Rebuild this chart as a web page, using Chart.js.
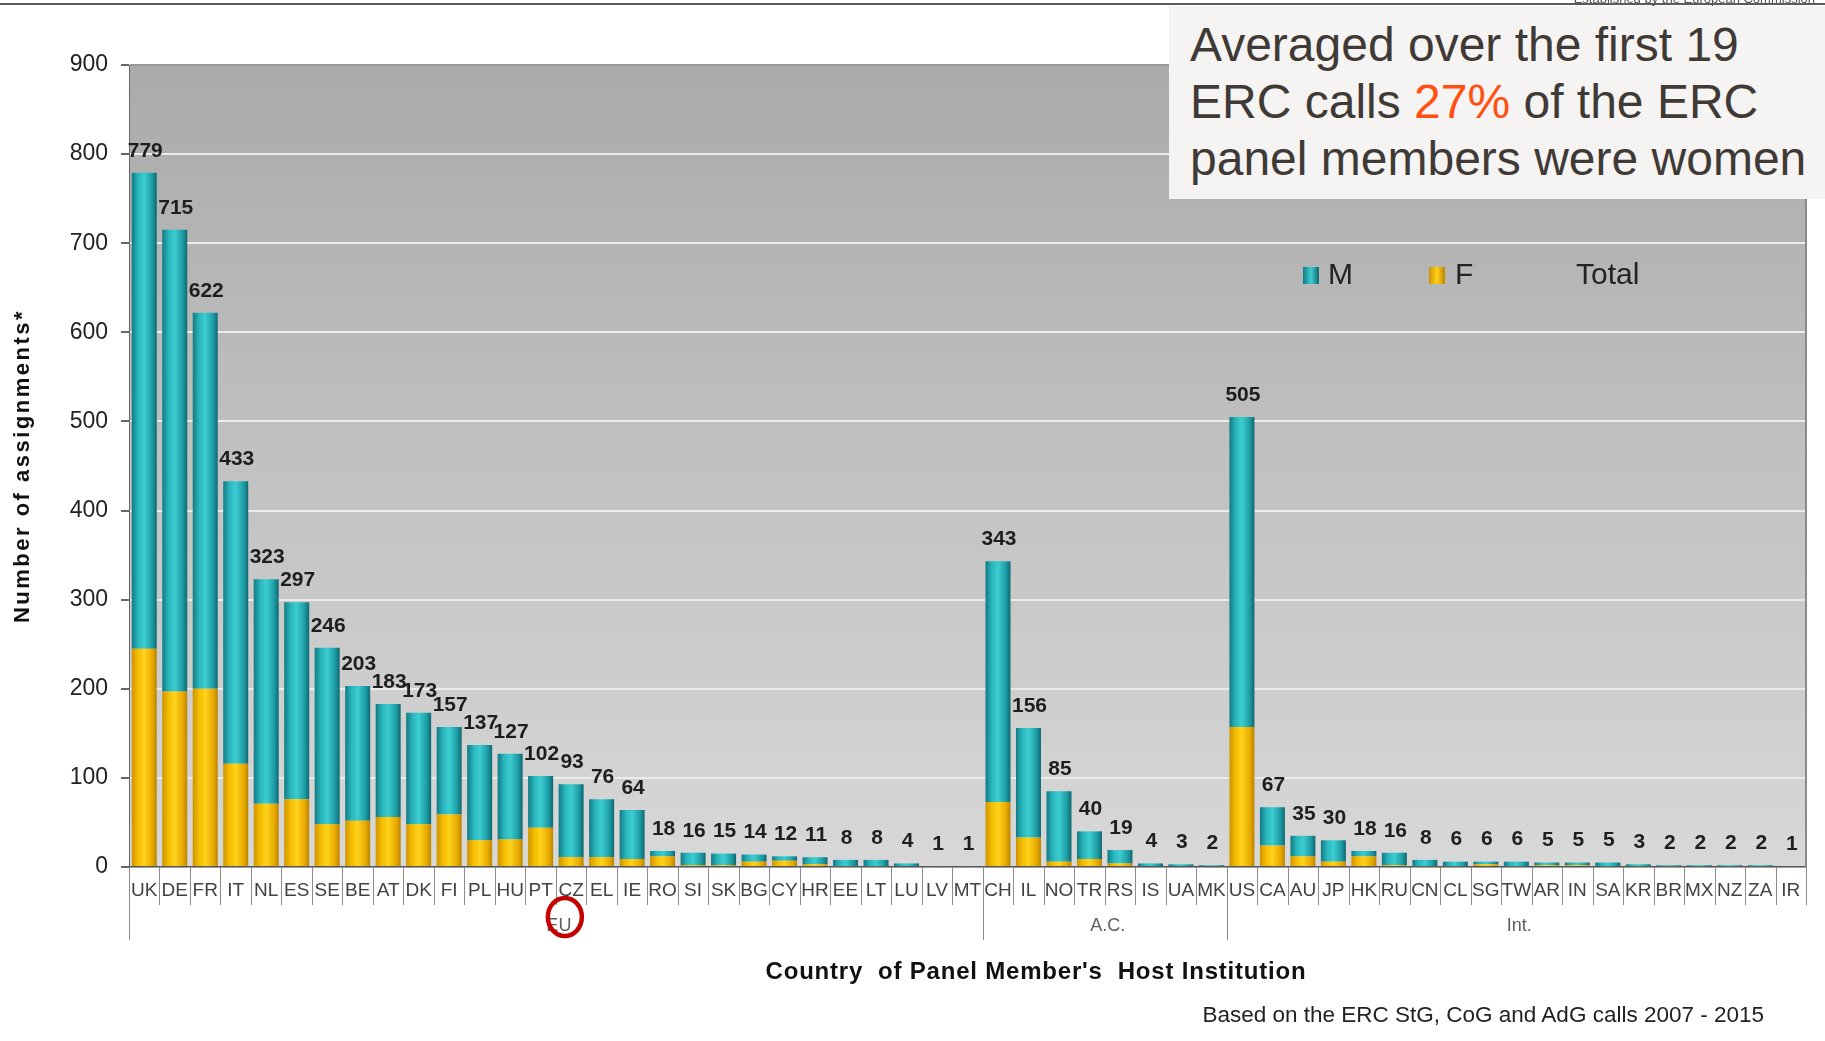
<!DOCTYPE html>
<html>
<head>
<meta charset="utf-8">
<title>ERC panel members by country</title>
<script src="https://cdn.jsdelivr.net/npm/chart.js@4.4.1/dist/chart.umd.min.js"></script>
<style>
html, body { margin: 0; padding: 0; background: #fff; }
#wrap { position: relative; width: 1825px; height: 1041px; overflow: hidden; font-family: "Liberation Sans", Arial, sans-serif; }
#chart-box { position: absolute; left: 0; top: 0; width: 1825px; height: 1041px; }
.topline { position: absolute; left: 0; top: 3px; width: 1825px; height: 2px; background: #5a5a5a; }
.tiny { position: absolute; right: 10px; top: -9px; font-size: 13px; color: #555; white-space: nowrap; }
.note { position: absolute; left: 1169px; top: 6px; width: 656px; height: 193px; box-sizing: border-box;
	padding: 10px 0 0 21px; background: #f6f4f3; color: #403a36; font-size: 48px; line-height: 57px; white-space: nowrap; }
.note .hl { color: #ff5010; }
.foot { position: absolute; right: 61px; top: 1003px; font-size: 22.5px; line-height: 24px; color: #222; white-space: nowrap; }
</style>
</head>
<body>
<div id="wrap">
	<div id="chart-box"><canvas id="erc-chart"></canvas></div>
	<div class="topline"></div>
	<div class="tiny">Established by the European Commission</div>
	<div class="note">Averaged over the first 19<br>ERC calls <span class="hl">27%</span> of the ERC<br>panel members were women</div>
	<div class="foot">Based on the ERC StG, CoG and AdG calls 2007 - 2015</div>
</div>
<script>
// countries, EU first, then associated countries, then the rest of the world
const countries = ['UK', 'DE', 'FR', 'IT', 'NL', 'ES', 'SE', 'BE', 'AT', 'DK', 'FI', 'PL', 'HU', 'PT', 'CZ', 'EL', 'IE', 'RO', 'SI', 'SK', 'BG', 'CY', 'HR', 'EE', 'LT', 'LU', 'LV', 'MT',
	'CH', 'IL', 'NO', 'TR', 'RS', 'IS', 'UA', 'MK',
	'US', 'CA', 'AU', 'JP', 'HK', 'RU', 'CN', 'CL', 'SG', 'TW', 'AR', 'IN', 'SA', 'KR', 'BR', 'MX', 'NZ', 'ZA', 'IR'];

const groupNames = ['EU', 'A.C.', 'Int.'];
const groupFirst = [0, 28, 36];

const women = [245, 197, 200, 116, 71, 76, 48, 52, 56, 48, 59, 30, 31, 44, 11, 11, 9, 12, 2, 2, 6, 7, 3, 1, 1, 0, 0, 0,
	73, 33, 6, 9, 4, 0, 0, 0,
	157, 24, 12, 6, 12, 2, 1, 1, 3, 1, 2, 2, 1, 1, 1, 1, 1, 1, 0];

const men = [534, 518, 422, 317, 252, 221, 198, 151, 127, 125, 98, 107, 96, 58, 82, 65, 55, 6, 14, 13, 8, 5, 8, 7, 7, 4, 1, 1,
	270, 123, 79, 31, 15, 4, 3, 2,
	348, 43, 23, 24, 6, 14, 7, 5, 3, 5, 3, 3, 4, 2, 1, 1, 1, 1, 1];

const totals = [779, 715, 622, 433, 323, 297, 246, 203, 183, 173, 157, 137, 127, 102, 93, 76, 64, 18, 16, 15, 14, 12, 11, 8, 8, 4, 1, 1,
	343, 156, 85, 40, 19, 4, 3, 2,
	505, 67, 35, 30, 18, 16, 8, 6, 6, 6, 5, 5, 5, 3, 2, 2, 2, 2, 1];

const yMax = 900;
const yStep = 100;

const FONT = '"Liberation Sans", Arial, sans-serif';
const BAR_PCT = 0.82;

const tealStops = ['#127a84', '#29b5bc', '#3ccdd1', '#1c9ca4', '#0e6770'];
const goldStops = ['#cf9300', '#f4bd00', '#ffd21c', '#e8aa00', '#bb8400'];

function barGradient(stops, ctx) {
	const chart = ctx.chart;
	const xs = chart.scales.x;
	if (!chart.chartArea || !xs || ctx.dataIndex === undefined)
		return stops[2];
	const cx = xs.getPixelForValue(ctx.dataIndex);
	const half = xs.width / countries.length * BAR_PCT / 2;
	const g = chart.ctx.createLinearGradient(cx - half, 0, cx + half, 0);
	g.addColorStop(0, stops[0]);
	g.addColorStop(0.25, stops[1]);
	g.addColorStop(0.5, stops[2]);
	g.addColorStop(0.82, stops[3]);
	g.addColorStop(1, stops[4]);
	return g;
}

function legendSwatch(c, x, y, stops) {
	const g = c.createLinearGradient(x, 0, x + 16, 0);
	g.addColorStop(0, stops[0]);
	g.addColorStop(0.5, stops[2]);
	g.addColorStop(1, stops[4]);
	c.fillStyle = g;
	c.fillRect(x, y, 16, 17);
}

const decor = {
	id: 'decor',
	beforeDraw(chart) {
		const a = chart.chartArea;
		const c = chart.ctx;
		const g = c.createLinearGradient(0, a.top, 0, a.bottom);
		g.addColorStop(0, '#aaaaaa');
		g.addColorStop(1, '#d8d8d8');
		c.save();
		c.fillStyle = g;
		c.fillRect(a.left, a.top, a.right - a.left, a.bottom - a.top);
		c.restore();
	},
	afterDraw(chart) {
		const a = chart.chartArea;
		const c = chart.ctx;
		const xs = chart.scales.x;
		const cw = xs.width / countries.length;
		c.save();

		// right border of the plot
		c.strokeStyle = '#8a8a8a';
		c.lineWidth = 2;
		c.beginPath();
		c.moveTo(a.right, a.top);
		c.lineTo(a.right, a.bottom);
		c.stroke();

		// totals above the bars
		const meta = chart.getDatasetMeta(2);
		c.fillStyle = '#1e1e1e';
		c.font = 'bold 21px ' + FONT;
		c.textAlign = 'center';
		c.textBaseline = 'middle';
		meta.data.forEach(function (pt, i) {
			c.fillText(String(totals[i]), pt.x + 1, pt.y - 22);
		});

		// boxes under the category labels
		c.strokeStyle = '#8c8c8c';
		c.lineWidth = 1;
		c.beginPath();
		for (let i = 0; i <= countries.length; i++) {
			const x = Math.round(xs.left + i * cw) + 0.5;
			const isGroup = groupFirst.indexOf(i) >= 0;
			c.moveTo(x, a.bottom);
			c.lineTo(x, isGroup ? a.bottom + 73 : a.bottom + 38);
		}
		c.stroke();

		// group names
		c.fillStyle = '#5e5e5e';
		c.font = '18px ' + FONT;
		for (let g = 0; g < groupNames.length; g++) {
			const first = groupFirst[g];
			const last = g + 1 < groupFirst.length ? groupFirst[g + 1] : countries.length;
			const gx = xs.left + (first + last) / 2 * cw;
			c.fillText(groupNames[g], gx + 3, a.bottom + 59);
			if (g === 0) {
				c.strokeStyle = '#c40000';
				c.lineWidth = 4.5;
				c.beginPath();
				c.ellipse(gx + 9, a.bottom + 50, 17, 19, 0, 0, Math.PI * 2);
				c.stroke();
			}
		}

		// axis titles
		c.fillStyle = '#111';
		c.save();
		c.font = 'bold 24px ' + FONT;
		c.letterSpacing = '0.8px';
		c.fillText("Country  of Panel Member's  Host Institution", 1036, 972);
		c.restore();

		c.save();
		c.fillStyle = '#111';
		c.font = 'bold 22px ' + FONT;
		c.translate(23, (a.top + a.bottom) / 2);
		c.rotate(-Math.PI / 2);
		c.letterSpacing = '2.5px';
		c.fillText('Number of assignments*', 0, 0);
		c.restore();

		// legend
		c.font = '30px ' + FONT;
		c.textAlign = 'left';
		legendSwatch(c, 1303, 267, tealStops);
		c.fillStyle = '#222';
		c.fillText('M', 1328, 276);
		legendSwatch(c, 1429, 267, goldStops);
		c.fillStyle = '#222';
		c.fillText('F', 1455, 276);
		c.fillText('Total', 1576, 276);

		c.restore();
	}
};

Chart.defaults.font.family = FONT;

new Chart(document.getElementById('erc-chart'), {
	type: 'bar',
	data: {
		labels: countries,
		datasets: [{
			label: 'F',
			data: women,
			backgroundColor: function (ctx) { return barGradient(goldStops, ctx); },
			borderWidth: 0
		}, {
			label: 'M',
			data: men,
			backgroundColor: function (ctx) { return barGradient(tealStops, ctx); },
			borderWidth: 0
		}, {
			type: 'line',
			label: 'Total',
			data: totals,
			showLine: false,
			pointRadius: 0,
			borderColor: 'rgba(0,0,0,0)',
			backgroundColor: 'rgba(0,0,0,0)'
		}]
	},
	options: {
		responsive: true,
		maintainAspectRatio: false,
		animation: false,
		devicePixelRatio: 1,
		layout: { padding: { left: 0, right: 19, top: 65, bottom: 0 } },
		datasets: { bar: { barPercentage: BAR_PCT, categoryPercentage: 1 } },
		plugins: {
			legend: { display: false },
			tooltip: { enabled: false }
		},
		scales: {
			x: {
				stacked: true,
				afterFit: function (scale) { scale.height = 174; },
				grid: { display: false, drawTicks: false },
				border: { display: true, color: '#555', width: 1.5 },
				ticks: {
					autoSkip: false,
					maxRotation: 0,
					minRotation: 0,
					padding: 12,
					color: '#424242',
					font: { size: 19 }
				}
			},
			y: {
				stacked: true,
				min: 0,
				max: yMax,
				afterFit: function (scale) { scale.width = 129; },
				grid: {
					color: function (ctx) {
						if (ctx.tick && ctx.tick.value === yMax) return '#989898';
						return '#ececec';
					},
					lineWidth: 2,
					drawTicks: true,
					tickLength: 8,
					tickColor: '#666'
				},
				border: { display: true, color: '#666', width: 1 },
				ticks: {
					stepSize: yStep,
					padding: 13,
					color: '#222',
					font: { size: 23 }
				}
			}
		}
	},
	plugins: [decor]
});
</script>
</body>
</html>
